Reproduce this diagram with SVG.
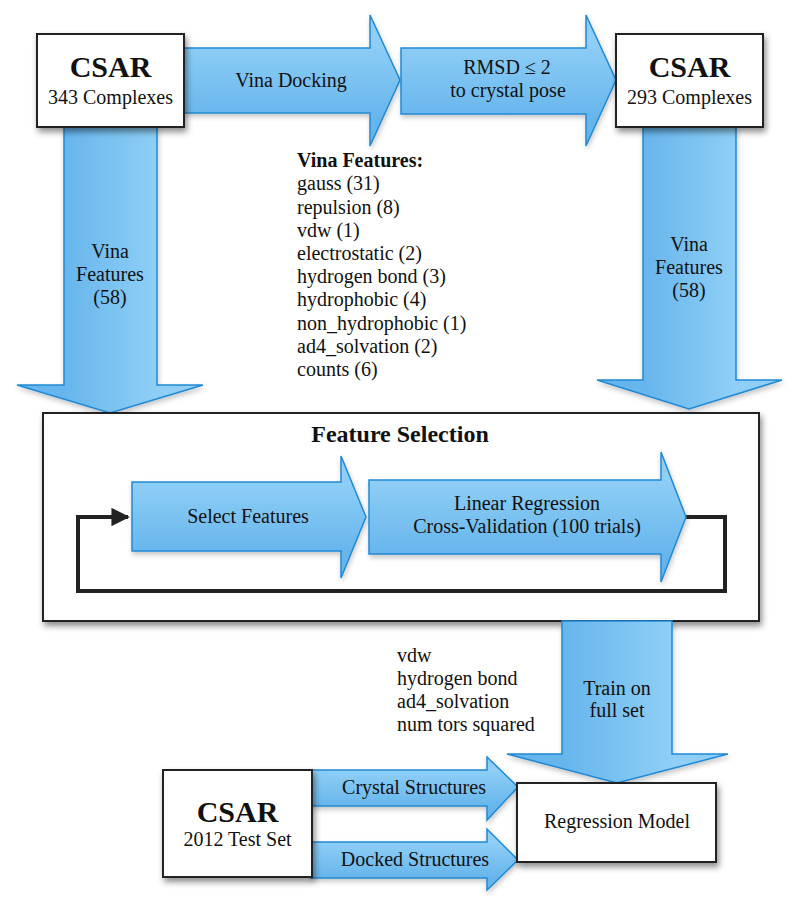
<svg xmlns="http://www.w3.org/2000/svg" width="800" height="914" viewBox="0 0 800 914">
<defs>
<linearGradient id="gh" x1="0" y1="0" x2="0" y2="1">
<stop offset="0.2" stop-color="#8fcff6"/>
<stop offset="0.8" stop-color="#66b5ec"/>
</linearGradient>
<linearGradient id="gv" x1="1" y1="0" x2="0" y2="0">
<stop offset="0.25" stop-color="#8fcff6"/>
<stop offset="0.75" stop-color="#66b5ec"/>
</linearGradient>
<filter id="sh" x="-10%" y="-10%" width="130%" height="130%">
<feDropShadow dx="2" dy="4" stdDeviation="3" flood-color="#000" flood-opacity="0.45"/>
</filter>
<filter id="sha" x="-10%" y="-10%" width="130%" height="130%">
<feDropShadow dx="1" dy="3" stdDeviation="2.5" flood-color="#000" flood-opacity="0.22"/>
</filter>
<marker id="ah" viewBox="0 0 10 10" refX="9" refY="5" markerWidth="6.5" markerHeight="4.6" markerUnits="strokeWidth" orient="auto">
<path d="M0,0 L10,5 L0,10 Z" fill="#222"/>
</marker>
<style>
text{font-family:"Liberation Serif","Times New Roman",serif;fill:#111;}
.t{font-size:20px;}
.c{text-anchor:middle;}
.b{font-weight:bold;}
.h{font-size:30px;font-weight:bold;text-anchor:middle;}
.box{fill:#fff;stroke:#222;stroke-width:2;filter:url(#sh);}
.ah{fill:url(#gh);stroke:#2089d4;stroke-width:1.5;filter:url(#sha);}
.av{fill:url(#gv);stroke:#2089d4;stroke-width:1.5;filter:url(#sha);}
.loop{fill:none;stroke:#222;stroke-width:4;}
</style>
</defs>
<rect width="800" height="914" fill="#fff"/>

<g id="connectors">
<g id="arrow-vina-docking">
<path class="ah" d="M184,48 H370 V15 L400,80 L370,146 V113 H184 Z"/>
<text class="t c" x="291" y="87">Vina Docking</text>
</g>
<g id="arrow-rmsd">
<path class="ah" d="M401,48 H586 V15 L616,80 L586,146 V114 H401 Z"/>
<text class="t c" x="507" y="74">RMSD ≤ 2</text>
<text class="t c" x="508" y="97">to crystal pose</text>
</g>
<g id="arrow-left-down">
<path class="av" d="M64,127 V385 H17 L110,413 L203,385 H157 V127 Z"/>
<text class="t c" x="110" y="258">Vina</text>
<text class="t c" x="110" y="281">Features</text>
<text class="t c" x="110" y="304">(58)</text>
</g>
<g id="arrow-right-down">
<path class="av" d="M643,127 V380 H597 L689,409 L782,380 H736 V127 Z"/>
<text class="t c" x="689" y="251">Vina</text>
<text class="t c" x="689" y="274">Features</text>
<text class="t c" x="689" y="297">(58)</text>
</g>
</g>

<g id="vina-features-list">
<text class="t b" x="297" y="167">Vina Features:</text>
<text class="t" x="297" y="190">gauss (31)</text>
<text class="t" x="297" y="214">repulsion (8)</text>
<text class="t" x="297" y="237">vdw (1)</text>
<text class="t" x="297" y="260">electrostatic (2)</text>
<text class="t" x="297" y="283">hydrogen bond (3)</text>
<text class="t" x="297" y="306">hydrophobic (4)</text>
<text class="t" x="297" y="330">non_hydrophobic (1)</text>
<text class="t" x="297" y="353">ad4_solvation (2)</text>
<text class="t" x="297" y="376">counts (6)</text>
</g>

<g id="csar-343">
<rect class="box" x="37" y="34" width="147" height="93"/>
<text class="h" x="110.5" y="77">CSAR</text>
<text class="t c" x="110.5" y="104">343 Complexes</text>
</g>

<g id="csar-293">
<rect class="box" x="616" y="34" width="147" height="93"/>
<text class="h" x="689.5" y="77">CSAR</text>
<text class="t c" x="689.5" y="104">293 Complexes</text>
</g>

<g id="feature-selection">
<rect class="box" x="43" y="413" width="716" height="208"/>
<text class="b c" x="400" y="442" style="font-size:24px">Feature Selection</text>
<g id="loop">
<polyline class="loop" points="686,517 725,517 725,591 78,591 78,517 128,517" marker-end="url(#ah)"/>
</g>
<g id="select-features">
<path class="ah" d="M132,482 H341 V456 L366,517 L341,578 V551 H132 Z"/>
<text class="t c" x="248" y="523">Select Features</text>
</g>
<g id="linear-regression">
<path class="ah" d="M369,480 H661 V452 L686,517 L661,582 V554 H369 Z"/>
<text class="t c" x="527" y="510">Linear Regression</text>
<text class="t c" x="527" y="533">Cross-Validation (100 trials)</text>
</g>
</g>

<g id="arrow-train">
<path class="av" d="M562,621 V754 H507 L617,783 L728,754 H672 V621 Z"/>
<text class="t c" x="617" y="695">Train on</text>
<text class="t c" x="617" y="717">full set</text>
</g>

<g id="selected-features-list">
<text class="t" x="397" y="662">vdw</text>
<text class="t" x="397" y="685">hydrogen bond</text>
<text class="t" x="397" y="708">ad4_solvation</text>
<text class="t" x="397" y="731">num tors squared</text>
</g>

<g id="arrow-crystal">
<path class="ah" d="M311,770 H487 V757 L518,787 L487,820 V806 H311 Z"/>
<text class="t c" x="414" y="794">Crystal Structures</text>
</g>
<g id="arrow-docked">
<path class="ah" d="M311,842 H487 V829 L518,860 L487,890 V878 H311 Z"/>
<text class="t c" x="415" y="866">Docked Structures</text>
</g>

<g id="csar-2012">
<rect class="box" x="163" y="770" width="149" height="107"/>
<text class="h" x="237.5" y="822">CSAR</text>
<text class="t c" x="237.5" y="846">2012 Test Set</text>
</g>

<g id="regression-model">
<rect class="box" x="517" y="783" width="199" height="79"/>
<text class="t c" x="617" y="828">Regression Model</text>
</g>
</svg>
